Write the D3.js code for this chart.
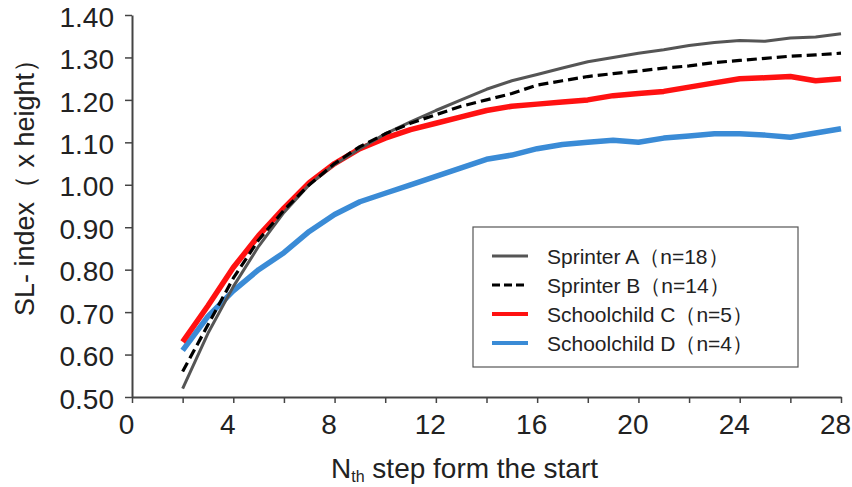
<!DOCTYPE html>
<html>
<head>
<meta charset="utf-8">
<script src="https://cdn.jsdelivr.net/npm/d3@7"></script>
<style>
  html, body { margin: 0; padding: 0; background: #fff; }
  svg { display: block; font-family: "Liberation Sans", Arial, sans-serif; }
</style>
</head>
<body>
<svg id="chart" width="852" height="487"></svg>
<script>
// ---- data ----
const steps = [2,3,4,5,6,7,8,9,10,11,12,13,14,15,16,17,18,19,20,21,22,23,24,25,26,27,28];
const sprinterA = [0.52,0.65,0.76,0.855,0.935,1.00,1.048,1.085,1.12,1.148,1.175,1.20,1.225,1.245,1.26,1.275,1.29,1.30,1.31,1.318,1.328,1.335,1.34,1.338,1.346,1.348,1.356];
const sprinterB = [0.56,0.67,0.78,0.87,0.94,1.00,1.05,1.09,1.12,1.145,1.165,1.185,1.20,1.215,1.235,1.245,1.255,1.262,1.268,1.275,1.28,1.288,1.293,1.298,1.303,1.306,1.31];
const schoolC  = [0.63,0.715,0.805,0.88,0.945,1.005,1.05,1.085,1.11,1.13,1.145,1.16,1.175,1.185,1.19,1.195,1.20,1.21,1.215,1.22,1.23,1.24,1.25,1.252,1.255,1.245,1.25];
const schoolD  = [0.61,0.69,0.75,0.80,0.84,0.89,0.93,0.96,0.98,1.00,1.02,1.04,1.06,1.07,1.085,1.095,1.10,1.105,1.10,1.11,1.115,1.12,1.12,1.117,1.112,1.122,1.132];
const seriesNames = ["Sprinter A（n=18）","Sprinter B（n=14）","Schoolchild C（n=5）","Schoolchild D（n=4）"];
const xTicks = [0,2,4,6,8,10,12,14,16,18,20,22,24,26,28];
const yTicks = [0.5,0.6,0.7,0.8,0.9,1.0,1.1,1.2,1.3,1.4];

// ---- layout ----
const svg = d3.select("#chart");
const x = d3.scaleLinear().domain([0, 28]).range([132, 841]);
const y = d3.scaleLinear().domain([0.5, 1.4]).range([397, 15]);
const axisColor = "#444";

// x axis
const xAxis = svg.append("g").attr("transform", `translate(0,${y(0.5)})`)
  .call(d3.axisBottom(x).tickValues(xTicks).tickSize(6).tickSizeOuter(0)
    .tickFormat(d => d % 4 === 0 ? d : ""));
xAxis.select(".domain").attr("stroke", axisColor).attr("stroke-width", 2);
xAxis.selectAll(".tick line").attr("stroke", axisColor).attr("stroke-width", 1.5);
xAxis.selectAll(".tick text").attr("font-size", 28).attr("fill", "#222")
  .attr("font-family", "Liberation Sans, Arial, sans-serif")
  .attr("dx", -6).attr("y", 17).attr("dy", "0.71em");

// y axis
const yAxis = svg.append("g").attr("transform", `translate(${x(0)},0)`)
  .call(d3.axisLeft(y).tickValues(yTicks).tickSize(7).tickSizeOuter(0).tickFormat(d3.format(".2f")));
yAxis.select(".domain").attr("stroke", axisColor).attr("stroke-width", 2);
yAxis.selectAll(".tick line").attr("stroke", axisColor).attr("stroke-width", 1.5);
yAxis.selectAll(".tick text").attr("font-size", 28).attr("fill", "#222")
  .attr("font-family", "Liberation Sans, Arial, sans-serif")
  .attr("x", -18).attr("dy", "0.40em");

// axis titles
const xt = svg.append("text").attr("x", 331).attr("y", 478)
  .attr("font-size", 28).attr("fill", "#222");
xt.append("tspan").text("N");
xt.append("tspan").attr("font-size", 16).attr("dy", 4).text("th");
xt.append("tspan").attr("dy", -4).text(" step form the start");

svg.append("text")
  .attr("transform", `translate(34,181) rotate(-90)`)
  .attr("text-anchor", "middle").attr("font-size", 27).attr("fill", "#222")
  .text("SL- index（ x height）");

// ---- lines ----
const line = d3.line().x(d => x(d[0])).y(d => y(d[1]));
const series = [
  { vals: schoolD,  color: "#3a8bd6", width: 5.5, dash: null, name: seriesNames[3] },
  { vals: schoolC,  color: "#ff1111", width: 5.5, dash: null, name: seriesNames[2] },
  { vals: sprinterA, color: "#555555", width: 3, dash: null, name: seriesNames[0] },
  { vals: sprinterB, color: "#000000", width: 3.2, dash: "10,5", name: seriesNames[1] }
];
series.forEach(s => {
  svg.append("path")
    .datum(steps.map((st, i) => [st, s.vals[i]]))
    .attr("fill", "none")
    .attr("stroke", s.color)
    .attr("stroke-width", s.width)
    .attr("stroke-dasharray", s.dash)
    .attr("stroke-linejoin", "round")
    .attr("d", line);
});

// ---- legend ----
const lg = svg.append("g");
lg.append("rect").attr("x", 473).attr("y", 227).attr("width", 325).attr("height", 140)
  .attr("fill", "#fff").attr("stroke", "#555").attr("stroke-width", 1.2);
const legendOrder = [series[2], series[3], series[1], series[0]];
legendOrder.forEach((s, i) => {
  const yy = 256 + i * 29;
  lg.append("line").attr("x1", 492).attr("x2", 528).attr("y1", yy).attr("y2", yy)
    .attr("stroke", s.color).attr("stroke-width", s.width > 4 ? 4 : 3)
    .attr("stroke-dasharray", s.dash ? "8,4" : null);
  lg.append("text").attr("x", 547).attr("y", yy).attr("dy", "0.36em")
    .attr("font-size", 21).attr("fill", "#222").text(s.name);
});
</script>
</body>
</html>
